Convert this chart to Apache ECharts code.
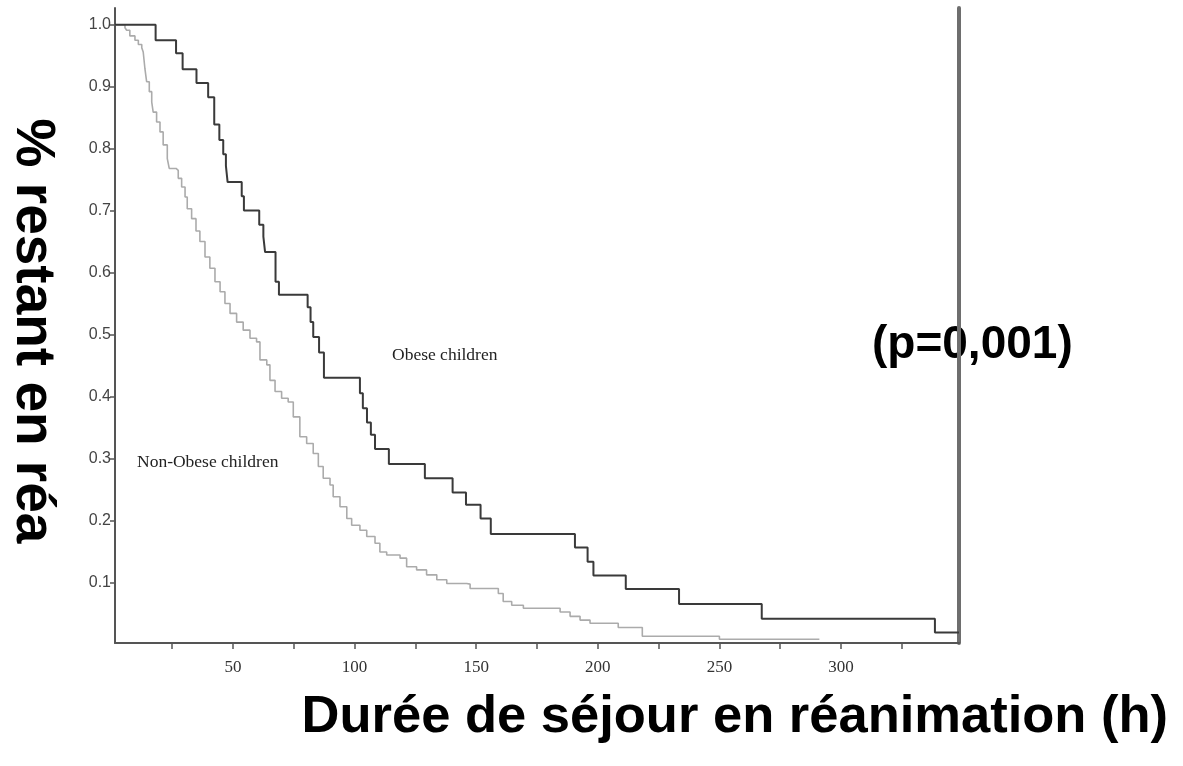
<!DOCTYPE html>
<html>
<head>
<meta charset="utf-8">
<title>Durée de séjour en réanimation</title>
<script src="https://cdn.jsdelivr.net/npm/echarts@6/dist/echarts.min.js"></script>
<style>
  html, body { margin: 0; padding: 0; background: #ffffff; }
  #chart { width: 1183px; height: 766px; }
</style>
</head>
<body>
<div id="chart"></div>
<script>
// Kaplan-Meier curves: [time in hours, fraction still in ICU]
const obeseCurve = [
  [1.5, 1.0], [18.2, 0.975], [26.6, 0.954], [29.3, 0.928], [35.0, 0.906],
  [39.8, 0.883], [42.3, 0.839], [44.4, 0.814], [46.0, 0.791], [47.1, 0.772],
  [47.8, 0.746], [53.6, 0.723], [54.5, 0.700], [60.8, 0.677], [62.5, 0.658],
  [63.2, 0.633], [67.5, 0.585], [68.9, 0.564], [80.7, 0.544], [81.9, 0.520],
  [83.0, 0.496], [85.4, 0.471], [87.4, 0.430], [102.2, 0.405], [103.4, 0.381],
  [105.1, 0.358], [106.7, 0.338], [108.4, 0.315], [114.1, 0.291], [128.9, 0.268],
  [140.3, 0.245], [145.8, 0.225], [151.8, 0.203], [156.0, 0.178], [190.6, 0.156],
  [195.8, 0.133], [198.2, 0.111], [211.5, 0.089], [233.4, 0.065], [267.4, 0.041],
  [338.6, 0.019], [348.5, 0.019]
];

const nonObeseCurve = [
  [1.5, 1.0], [5.6, 0.995], [6.3, 0.991], [7.6, 0.982], [9.7, 0.975],
  [11.1, 0.968], [12.5, 0.963], [13.1, 0.956], [13.8, 0.929], [14.5, 0.908],
  [15.6, 0.892], [16.6, 0.875], [17.2, 0.859], [18.6, 0.843], [20.0, 0.827],
  [21.3, 0.806], [23.0, 0.784], [23.8, 0.768], [26.6, 0.765], [27.5, 0.752],
  [28.9, 0.738], [30.3, 0.722], [31.2, 0.703], [33.0, 0.687], [34.8, 0.667],
  [36.4, 0.650], [38.5, 0.625], [40.5, 0.607], [42.6, 0.585], [44.7, 0.569],
  [46.7, 0.550], [48.8, 0.534], [51.5, 0.520], [54.2, 0.507], [57.0, 0.494],
  [59.7, 0.488], [61.1, 0.459], [63.9, 0.451], [65.2, 0.426], [67.3, 0.408],
  [70.0, 0.397], [72.7, 0.391], [74.8, 0.367], [77.5, 0.335], [80.3, 0.324],
  [83.0, 0.308], [85.1, 0.287], [87.1, 0.268], [89.9, 0.257], [91.2, 0.238],
  [94.0, 0.222], [96.8, 0.203], [98.8, 0.192], [102.2, 0.184], [105.0, 0.174],
  [108.4, 0.163], [110.4, 0.149], [113.2, 0.144], [118.7, 0.139], [121.4, 0.125],
  [125.5, 0.120], [129.6, 0.112], [133.8, 0.104], [137.9, 0.098], [146.1, 0.097],
  [147.5, 0.090], [159.1, 0.082], [161.1, 0.069], [164.6, 0.063], [169.4, 0.058],
  [184.5, 0.052], [188.6, 0.045], [192.7, 0.039], [196.8, 0.034], [208.4, 0.027],
  [218.3, 0.013], [250.0, 0.008], [291.1, 0.008]
];

const xTickValues = [25, 50, 75, 100, 125, 150, 175, 200, 225, 250, 275, 300, 325];
const xLabelValues = [50, 100, 150, 200, 250, 300];
const yTickValues = [0.1, 0.2, 0.3, 0.4, 0.5, 0.6, 0.7, 0.8, 0.9, 1.0];

const chart = echarts.init(document.getElementById('chart'), null, { renderer: 'canvas' });

const axisColor = '#555555';
const serif = '"Liberation Serif", "DejaVu Serif", serif';
const sansBold = '"Liberation Sans", Arial, sans-serif';

chart.setOption({
  animation: false,
  backgroundColor: '#ffffff',
  grid: { left: 115, right: 224, top: 8, bottom: 123 },
  xAxis: {
    type: 'value',
    min: 1.5,
    max: 348.5,
    axisLine: { show: true, onZero: false, lineStyle: { color: axisColor, width: 2 } },
    axisTick: { show: true, customValues: xTickValues, length: 6, lineStyle: { color: axisColor, width: 1.5 } },
    axisLabel: {
      customValues: xLabelValues,
      margin: 16,
      color: '#333333',
      fontFamily: serif,
      fontSize: 17
    },
    splitLine: { show: false }
  },
  yAxis: [
    {
      type: 'value',
      min: 0.002,
      max: 1.027,
      axisLine: { show: true, onZero: false, lineStyle: { color: axisColor, width: 2 } },
      axisTick: { show: true, customValues: yTickValues, length: 5, lineStyle: { color: axisColor, width: 1.5 } },
      axisLabel: {
        customValues: yTickValues,
        formatter: v => v.toFixed(1),
        margin: 4,
        color: '#444444',
        fontFamily: '"Liberation Sans Narrow", "Liberation Sans", sans-serif',
        fontSize: 16
      },
      splitLine: { show: false }
    },
    {
      type: 'value',
      position: 'right',
      min: 0.002,
      max: 1.027,
      axisLine: { show: true, lineStyle: { color: '#6e6e6e', width: 4 } },
      axisTick: { show: false },
      axisLabel: { show: false },
      splitLine: { show: false }
    }
  ],
  series: [
    {
      name: 'Obese children',
      type: 'line',
      step: 'end',
      data: obeseCurve,
      showSymbol: false,
      lineStyle: { color: '#3a3a3a', width: 2 },
      z: 3
    },
    {
      name: 'Non-Obese children',
      type: 'line',
      step: 'end',
      data: nonObeseCurve,
      showSymbol: false,
      lineStyle: { color: '#ababab', width: 1.6 },
      z: 2
    }
  ],
  graphic: [
    {
      type: 'text', x: 392, y: 355,
      style: { text: 'Obese children', fill: '#222222', font: '17.5px ' + serif, textAlign: 'left', textVerticalAlign: 'middle' }
    },
    {
      type: 'text', x: 137, y: 462,
      style: { text: 'Non-Obese children', fill: '#222222', font: '17.5px ' + serif, textAlign: 'left', textVerticalAlign: 'middle' }
    },
    {
      type: 'text', x: 872, y: 345,
      style: { text: '(p=0,001)', fill: '#000000', font: 'bold 46px ' + sansBold, textAlign: 'left', textVerticalAlign: 'middle' }
    },
    {
      type: 'text', x: 1168, y: 718,
      style: { text: 'Durée de séjour en réanimation (h)', fill: '#000000', font: 'bold 52.5px ' + sansBold, textAlign: 'right', textVerticalAlign: 'middle' }
    },
    {
      type: 'text', x: 32, y: 331, rotation: -Math.PI / 2,
      style: { text: '% restant en réa', fill: '#000000', font: 'bold 55px ' + sansBold, textAlign: 'center', textVerticalAlign: 'middle' }
    }
  ]
});
</script>
</body>
</html>
